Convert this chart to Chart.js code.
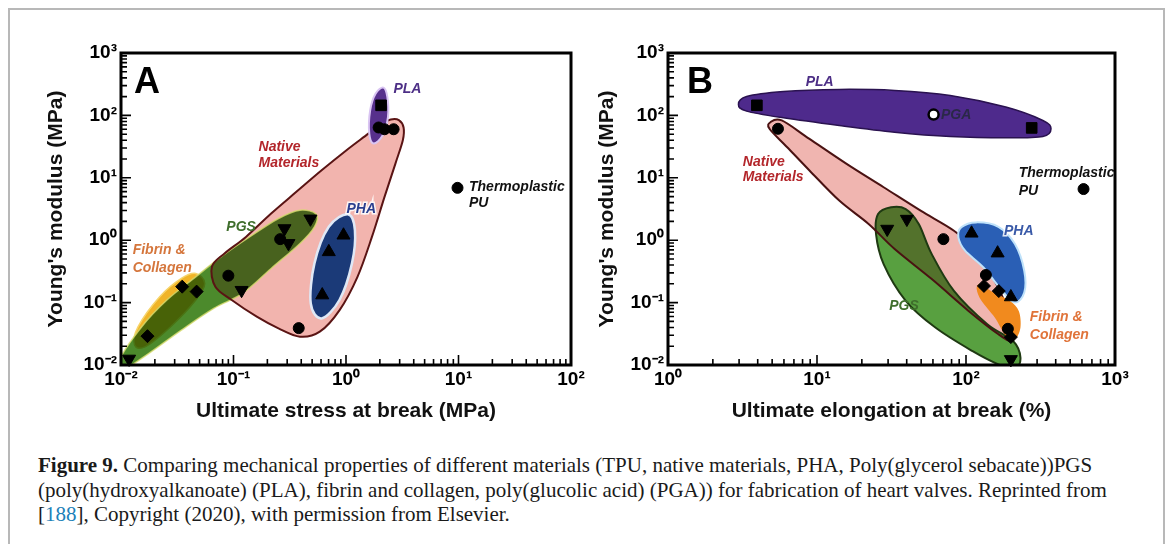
<!DOCTYPE html>
<html>
<head>
<meta charset="utf-8">
<script src="https://cdn.jsdelivr.net/npm/chart.js@4.4.1/dist/chart.umd.min.js"></script>
<style>
html, body { margin: 0; padding: 0; background: #fff; width: 1171px; height: 544px; overflow: hidden; }
#frame { position: absolute; left: 8px; top: 8px; width: 1153px; height: 600px; border: 2px solid #b8b8b8; border-bottom: none; }
.panel { position: absolute; top: 20px; height: 404px; }
#boxA { left: 37px; width: 560px; }
#boxB { left: 588px; width: 570px; }
#caption { position: absolute; left: 38px; top: 453px; font-family: 'Liberation Serif', 'Times New Roman', serif; font-size: 21px; line-height: 24.5px; color: #1a1a1a; white-space: nowrap; }
#caption .ref { color: #2080b8; }
</style>
</head>
<body>
<div id="frame"></div>
<div class="panel" id="boxA"><canvas id="chartA"></canvas></div>
<div class="panel" id="boxB"><canvas id="chartB"></canvas></div>
<div id="caption"><b>Figure 9.</b> Comparing mechanical properties of different materials (TPU, native materials, PHA, Poly(glycerol sebacate))PGS<br>(poly(hydroxyalkanoate) (PLA), fibrin and collagen, poly(glucolic acid) (PGA)) for fabrication of heart valves. Reprinted from<br>[<span class="ref">188</span>], Copyright (2020), with permission from Elsevier.</div>

<script>
// ---------- ticks ----------
const yTicks = [0.01, 0.1, 1, 10, 100, 1000];
const yLabels = ['10⁻²', '10⁻¹', '10⁰', '10¹', '10²', '10³'];
const xTicksA = [0.01, 0.1, 1, 10, 100];
const xLabelsA = ['10⁻²', '10⁻¹', '10⁰', '10¹', '10²'];
const xTicksB = [1, 10, 100, 1000];
const xLabelsB = ['10⁰', '10¹', '10²', '10³'];

// ---------- panel A : stress (MPa) , modulus (MPa) ----------
const nativeA = [[0.09, 0.27], [0.26, 1.04], [0.38, 0.039], [1.95, 64], [2.2, 60], [2.65, 60]];
const puA = [[9.8, 6.9]];
const plaA = [[2.05, 145]];
const pgsA = [[0.0118, 0.0125], [0.118, 0.158], [0.284, 1.54], [0.308, 0.89], [0.483, 2.2]];
const fibrinA = [[0.0172, 0.029], [0.035, 0.18], [0.047, 0.15]];
const phaA = [[0.615, 0.132], [0.703, 0.65], [0.95, 1.2]];

// ---------- panel B : elongation (%) , modulus (MPa) ----------
const nativeB = [[5.47, 61], [70.5, 1.04], [136, 0.277], [191, 0.038]];
const puB = [[615, 6.6]];
const plaB = [[3.95, 145], [276, 63]];
const pgaB = [[60.6, 103]];
const pgsB = [[29.6, 1.51], [40.1, 2.18], [200, 0.0123]];
const fibrinB = [[132, 0.185], [166, 0.153], [200, 0.028]];
const phaB = [[109, 1.29], [163, 0.62], [200, 0.123]];

// ---------- group outlines ----------
const nativeShapeA = [[0.0643, 0.375], [0.069, 0.18], [0.0964, 0.11], [0.161, 0.0594], [0.251, 0.0386], [0.39, 0.0284], [0.585, 0.0342], [0.877, 0.0759], [1.265, 0.259], [1.7, 1.13], [2.2, 4.95], [2.75, 16.9], [3.2, 40], [3.25, 64], [2.95, 84], [2.5, 86], [2.05, 74], [1.58, 51], [1.01, 27.7], [0.607, 13.2], [0.362, 5.96], [0.216, 2.68], [0.129, 1.13], [0.0832, 0.614]];
const plaShapeA = [[2.15, 279], [2.33, 198], [2.36, 94], [2.12, 48], [1.76, 35.4], [1.61, 51], [1.64, 121], [1.83, 223]];
const phaShapeA = [[1.04, 2.61], [1.2, 1.45], [1.13, 0.425], [0.875, 0.11], [0.607, 0.0558], [0.486, 0.097], [0.524, 0.425], [0.703, 1.64]];
const pgsShapeA = [[0.543, 2.61], [0.39, 3.03], [0.251, 2.23], [0.139, 1.13], [0.0773, 0.542], [0.0462, 0.259], [0.0256, 0.11], [0.0153, 0.0411], [0.0098, 0.0125], [0.0105, 0.0085], [0.0177, 0.0154], [0.0344, 0.0363], [0.0667, 0.0807], [0.12, 0.14], [0.216, 0.352], [0.39, 0.887], [0.524, 1.64]];
const fibrinShapeA = [[0.0462, 0.293], [0.0555, 0.203], [0.0462, 0.11], [0.0276, 0.0411], [0.0165, 0.0197], [0.0132, 0.0209], [0.0142, 0.0411], [0.0221, 0.124], [0.0344, 0.244]];

const plaShapeB = [[2.97, 150], [3.37, 201], [5.96, 242], [14.1, 261], [33.2, 251], [78.4, 209], [185, 136], [328, 83], [372, 61], [328, 45.9], [185, 43.7], [78.4, 45.9], [33.2, 53.9], [14.1, 68.9], [5.96, 91.4], [3.37, 117]];
const nativeShapeB = [[4.88, 78], [5.8, 83], [8.9, 42], [15.8, 16.7], [28, 7.05], [49.6, 2.97], [83, 1.42], [117, 0.678], [147, 0.286], [185, 0.0942], [213, 0.0351], [201, 0.0243], [165, 0.0311], [104, 0.0736], [58.9, 0.238], [33.2, 0.721], [22.2, 1.82], [14.1, 4.31], [8.9, 13.1], [6.31, 30.9], [4.8, 61]];
const pgsShapeB = [[31.4, 3.37], [39.4, 3.16], [48.2, 1.82], [58.9, 0.598], [83, 0.154], [139, 0.045], [207, 0.0243], [232, 0.0131], [213, 0.0085], [165, 0.0102], [110, 0.0168], [62.3, 0.0398], [39.4, 0.107], [28, 0.414], [24.9, 1.25], [25.7, 2.62]];
const phaShapeB = [[93, 1.61], [117, 1.93], [165, 1.64], [213, 0.867], [246, 0.324], [246, 0.145], [213, 0.1], [175, 0.154], [131, 0.366], [98.6, 0.678], [88.9, 1.11]];
const fibrinShapeB = [[124, 0.198], [147, 0.154], [196, 0.107], [226, 0.0736], [232, 0.0398], [213, 0.0258], [185, 0.0292], [156, 0.0575], [127, 0.107], [118, 0.164]];

const FONT = "'Liberation Sans', Arial, sans-serif";
Chart.defaults.font.family = FONT;

// closed smooth curve through points (catmull-rom)
function smoothPath(ctx, pts) {
    const n = pts.length;
    ctx.beginPath();
    ctx.moveTo(pts[0][0], pts[0][1]);
    for (let i = 0; i < n; i++) {
        const p0 = pts[(i - 1 + n) % n], p1 = pts[i], p2 = pts[(i + 1) % n], p3 = pts[(i + 2) % n];
        ctx.bezierCurveTo(
            p1[0] + (p2[0] - p0[0]) / 6, p1[1] + (p2[1] - p0[1]) / 6,
            p2[0] - (p3[0] - p1[0]) / 6, p2[1] - (p3[1] - p1[1]) / 6,
            p2[0], p2[1]);
    }
    ctx.closePath();
}

function makeDecor(regions, notes, letter, letterDx) {
    return {
        id: 'decor',
        beforeDatasetsDraw(chart) {
            const {ctx, chartArea: a, scales: {x, y}} = chart;
            ctx.save();
            ctx.beginPath();
            ctx.rect(a.left, a.top, a.width, a.height);
            ctx.clip();
            regions.forEach(r => {
                const pts = r.pts.map(p => [x.getPixelForValue(p[0]), y.getPixelForValue(p[1])]);
                smoothPath(ctx, pts);
                if (r.fill) {
                    ctx.globalCompositeOperation = r.blend || 'source-over';
                    ctx.fillStyle = r.fill;
                    ctx.fill();
                    ctx.globalCompositeOperation = 'source-over';
                }
                if (r.stroke) {
                    ctx.lineWidth = r.width;
                    ctx.strokeStyle = r.stroke;
                    ctx.stroke();
                }
            });
            ctx.restore();

            ctx.save();
            ctx.font = 'italic bold 14px ' + FONT;
            ctx.textAlign = 'left';
            ctx.textBaseline = 'middle';
            notes.forEach(n => {
                const px = x.getPixelForValue(n.x), py = y.getPixelForValue(n.y);
                if (n.halo) {
                    ctx.lineWidth = 3;
                    ctx.strokeStyle = 'rgba(255,255,255,0.85)';
                    ctx.strokeText(n.t, px, py);
                }
                ctx.fillStyle = n.c;
                ctx.fillText(n.t, px, py);
            });
            ctx.restore();
        },
        afterDraw(chart) {
            const {ctx, chartArea: a, scales: {x, y}} = chart;
            ctx.save();
            ctx.strokeStyle = '#000';
            ctx.lineWidth = 3;
            ctx.strokeRect(a.left, a.top, a.width, a.height);

            ctx.lineWidth = 1.6;
            ctx.beginPath();
            const marks = (scale, horiz) => {
                const lo = Math.round(Math.log10(scale.min)), hi = Math.round(Math.log10(scale.max));
                for (let e = lo; e <= hi; e++) {
                    for (let k = 1; k <= 9; k++) {
                        const v = k * Math.pow(10, e);
                        if (v > scale.max * 1.0001) break;
                        const p = scale.getPixelForValue(v);
                        const len = k === 1 ? 10 : 6;
                        if (horiz) { ctx.moveTo(p, a.bottom); ctx.lineTo(p, a.bottom - len); }
                        else { ctx.moveTo(a.left, p); ctx.lineTo(a.left + len, p); }
                    }
                }
            };
            marks(x, true);
            marks(y, false);
            ctx.stroke();

            ctx.fillStyle = '#000';
            ctx.font = 'bold 36px ' + FONT;
            ctx.textAlign = 'left';
            ctx.textBaseline = 'alphabetic';
            ctx.fillText(letter, a.left + letterDx, a.top + 40);
            ctx.restore();
        }
    };
}

function pts(list) {
    return list.map(p => ({x: p[0], y: p[1]}));
}

function series(list, style, extra) {
    return Object.assign({
        data: pts(list),
        pointStyle: style,
        pointRadius: 5.5,
        pointBackgroundColor: '#000',
        pointBorderColor: '#000',
        pointBorderWidth: 1,
        showLine: false,
        clip: false
    }, extra || {});
}

function makeOptions(xMin, xMax, xTicks, xLabels, xTitle, yWidth, padRight) {
    return {
        responsive: true,
        maintainAspectRatio: false,
        animation: false,
        events: [],
        layout: { padding: { top: 33, right: padRight, bottom: 0, left: 0 } },
        plugins: { legend: { display: false }, tooltip: { enabled: false } },
        scales: {
            x: {
                type: 'logarithmic',
                position: 'bottom',
                min: xMin,
                max: xMax,
                grid: { display: false, drawTicks: false },
                border: { display: false },
                afterBuildTicks: s => { s.ticks = xTicks.map(v => ({ value: v })); },
                afterFit: s => { s.height = 59; },
                ticks: {
                    autoSkip: false, maxRotation: 0, padding: 3, color: '#000',
                    font: { size: 19, weight: 'bold' },
                    callback: (v, i) => xLabels[i]
                },
                title: { display: true, text: xTitle, color: '#111', font: { size: 21, weight: 'bold' }, padding: { top: 0, bottom: 0 } }
            },
            y: {
                type: 'logarithmic',
                position: 'left',
                min: 0.01,
                max: 1000,
                grid: { display: false, drawTicks: false },
                border: { display: false },
                afterBuildTicks: s => { s.ticks = yTicks.map(v => ({ value: v })); },
                afterFit: s => { s.width = yWidth; },
                ticks: {
                    autoSkip: false, padding: 4, color: '#000',
                    font: { size: 19, weight: 'bold' },
                    callback: (v, i) => yLabels[i]
                },
                title: { display: true, text: "Young's modulus (MPa)", color: '#111', font: { size: 21, weight: 'bold' }, padding: { top: 7, bottom: 0 } }
            }
        }
    };
}

const regionsA = [
    { pts: nativeShapeA, fill: '#f2b4ae' },
    { pts: fibrinShapeA, fill: '#f0b428', stroke: '#f6d46a', width: 1.5 },
    { pts: pgsShapeA, fill: '#4c8a2c', blend: 'multiply', stroke: 'rgba(215,220,110,0.8)', width: 1.5 },
    { pts: nativeShapeA, stroke: '#5a1414', width: 2 },
    { pts: phaShapeA, fill: '#1b3a78', stroke: '#dfe8f6', width: 2.5 },
    { pts: plaShapeA, fill: '#57308c', stroke: '#d9c4f2', width: 2 }
];

const notesA = [
    { t: 'PLA', x: 2.64, y: 268, c: '#4d2f86' },
    { t: 'Native', x: 0.167, y: 31.3, c: '#b3262b' },
    { t: 'Materials', x: 0.167, y: 16.9, c: '#b3262b' },
    { t: 'Thermoplastic', x: 12.4, y: 7.2, c: '#111' },
    { t: 'PU', x: 12.4, y: 3.87, c: '#111' },
    { t: 'PHA', x: 1.01, y: 3.14, c: '#2b3f8f', halo: true },
    { t: 'PGS', x: 0.0863, y: 1.6, c: '#3f6e2c' },
    { t: 'Fibrin &', x: 0.0127, y: 0.693, c: '#d5763c' },
    { t: 'Collagen', x: 0.0127, y: 0.353, c: '#d5763c' }
];

const regionsB = [
    { pts: nativeShapeB, fill: '#f0b5b0' },
    { pts: pgsShapeB, fill: '#58a040', blend: 'multiply', stroke: '#1f3a12', width: 2 },
    { pts: nativeShapeB, stroke: '#4a1212', width: 2 },
    { pts: phaShapeB, fill: '#2a5fb5', stroke: '#bfe2fa', width: 2 },
    { pts: fibrinShapeB, fill: '#f18a1e' },
    { pts: plaShapeB, fill: '#4e2a8c', stroke: '#2a1250', width: 1.5 }
];

const notesB = [
    { t: 'PLA', x: 8.4, y: 342, c: '#4d2f86' },
    { t: 'PGA', x: 67.9, y: 100, c: '#2a2848' },
    { t: 'Native', x: 3.18, y: 17.7, c: '#b3262b' },
    { t: 'Materials', x: 3.18, y: 10.2, c: '#b3262b' },
    { t: 'Thermoplastic', x: 226, y: 12, c: '#111' },
    { t: 'PU', x: 226, y: 6.2, c: '#111' },
    { t: 'PHA', x: 180, y: 1.42, c: '#3a5aa8', halo: true },
    { t: 'PGS', x: 30.5, y: 0.0887, c: '#3f6e2c' },
    { t: 'Fibrin &', x: 268, y: 0.059, c: '#e0743a' },
    { t: 'Collagen', x: 268, y: 0.0303, c: '#e0743a' }
];

const down = { pointRotation: 180, pointRadius: 7.5 };

new Chart(document.getElementById('chartA'), {
    type: 'scatter',
    data: {
        datasets: [
            series(nativeA, 'circle'),
            series(puA, 'circle'),
            series(plaA, 'rect', { pointRadius: 7.5 }),
            series(pgsA, 'triangle', down),
            series(fibrinA, 'rectRot', { pointRadius: 6.5 }),
            series(phaA, 'triangle', { pointRadius: 7.5 })
        ]
    },
    options: makeOptions(0.01, 100, xTicksA, xLabelsA, 'Ultimate stress at break (MPa)', 84, 26),
    plugins: [makeDecor(regionsA, notesA, 'A', 13)]
});

new Chart(document.getElementById('chartB'), {
    type: 'scatter',
    data: {
        datasets: [
            series(nativeB, 'circle'),
            series(puB, 'circle'),
            series(plaB, 'rect', { pointRadius: 7.5 }),
            series(pgaB, 'circle', { pointRadius: 5, pointBackgroundColor: '#fff', pointBorderWidth: 2.5 }),
            series(pgsB, 'triangle', down),
            series(fibrinB, 'rectRot', { pointRadius: 6.5 }),
            series(phaB, 'triangle', { pointRadius: 7.5 })
        ]
    },
    options: makeOptions(1, 1000, xTicksB, xLabelsB, 'Ultimate elongation at break (%)', 80, 43),
    plugins: [makeDecor(regionsB, notesB, 'B', 19)]
});
</script>
</body>
</html>
